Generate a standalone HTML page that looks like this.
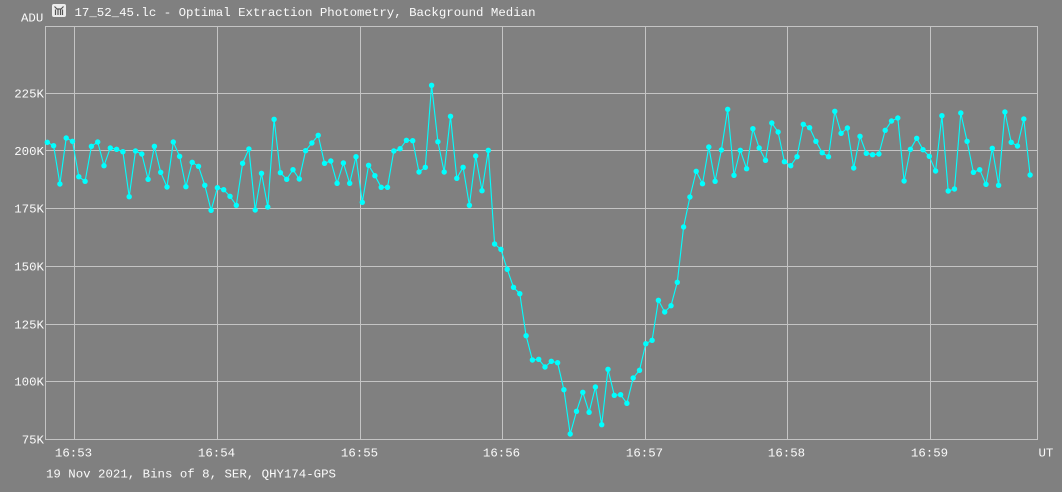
<!DOCTYPE html>
<html>
<head>
<meta charset="utf-8">
<style>
html,body{margin:0;padding:0;background:#808080;}
svg{display:block;}
text{font-family:"Liberation Mono","Courier New",monospace;font-size:12.4px;fill:#fafafa;}
</style>
</head>
<body>
<svg width="1062" height="492" viewBox="0 0 1062 492" xmlns="http://www.w3.org/2000/svg">
<rect x="0" y="0" width="1062" height="492" fill="#808080"/>
<g stroke="#c4c4c4" stroke-width="1" shape-rendering="crispEdges" fill="none">
<line x1="74.5" y1="27" x2="74.5" y2="439"/>
<line x1="217.5" y1="27" x2="217.5" y2="439"/>
<line x1="360.5" y1="27" x2="360.5" y2="439"/>
<line x1="502.5" y1="27" x2="502.5" y2="439"/>
<line x1="645.5" y1="27" x2="645.5" y2="439"/>
<line x1="787.5" y1="27" x2="787.5" y2="439"/>
<line x1="930.5" y1="27" x2="930.5" y2="439"/>
<line x1="45" y1="93.5" x2="1037" y2="93.5"/>
<line x1="45" y1="150.5" x2="1037" y2="150.5"/>
<line x1="45" y1="208.5" x2="1037" y2="208.5"/>
<line x1="45" y1="266.5" x2="1037" y2="266.5"/>
<line x1="45" y1="324.5" x2="1037" y2="324.5"/>
<line x1="45" y1="381.5" x2="1037" y2="381.5"/>
<rect x="45.5" y="26.5" width="992" height="413"/>
</g>

<!-- icon -->
<rect x="52" y="4" width="14" height="13" rx="2" fill="#ececec"/>
<g stroke="#555" stroke-width="1.2" fill="none">
<path d="M54.5 6.5 L57 9 L59 9 L61 9 L63.5 6.5"/>
<path d="M55.5 9.5 L55.5 15 M58 9.5 L58 15 M60.5 9.5 L60.5 15 M62.5 9.5 L62.5 15"/>
</g>

<text x="21" y="21.3">ADU</text>
<text x="74.5" y="16">17_52_45.lc - Optimal Extraction Photometry, Background Median</text>

<g text-anchor="end">
<text x="44" y="97.3">225K</text>
<text x="44" y="154.8">200K</text>
<text x="44" y="212.6">175K</text>
<text x="44" y="270.6">150K</text>
<text x="44" y="328.6">125K</text>
<text x="44" y="385.6">100K</text>
<text x="44" y="443.5">75K</text>
</g>
<g text-anchor="middle">
<text x="73.5" y="456.3">16:53</text>
<text x="216.5" y="456.3">16:54</text>
<text x="359.5" y="456.3">16:55</text>
<text x="501.5" y="456.3">16:56</text>
<text x="644.5" y="456.3">16:57</text>
<text x="786.5" y="456.3">16:58</text>
<text x="929.5" y="456.3">16:59</text>
</g>
<text x="1038.5" y="456.3">UT</text>
<text x="46" y="477.3">19 Nov 2021, Bins of 8, SER, QHY174-GPS</text>

<g id="data"></g>
</svg>
<script>
var ys=[142.3,145.7,184,138,141.3,176.7,181.3,146.3,142,165.7,148,149.3,151.7,196.7,151,154,179.3,146.3,172.3,187,142,156.3,186.7,162.3,166.3,185.3,210.3,187.7,189.7,196.3,205.3,163.3,149,210,173.3,207,119.3,172.7,179.3,169.7,179,150.7,143,135.3,163.3,161,183.3,163,183.3,156.7,202.3,165.3,175.7,187.3,187.3,151,148.7,140.3,140.7,172,167.3,85.3,141.7,172,116.3,178.3,167.3,205.3,156,190.7,150.3,244,249.3,269.3,287.3,293.7,335.7,360,359.3,367,361.3,362.7,389.7,434,411.3,392.3,412.3,387,424.7,369.3,395.3,394.7,403.3,378,370.3,343.7,340.3,300.3,312,305.7,282.3,227,197,171.3,183.7,147,181.3,150,109.3,175.3,150.3,168.7,128.7,148,160.3,123,132,161.7,165.7,156.7,124.3,127.7,141.3,152.7,156.7,111.3,133.3,128,168,136.3,153.3,154.7,154,130.3,121,118,181,149.3,138.3,149.7,156.3,171,115.7,191,189,113,141.3,172.3,169.7,184.3,148.3,185.3,112,142.3,146,119,175];
var ns="http://www.w3.org/2000/svg";
var g=document.getElementById("data");
var pts=[];
for(var i=0;i<ys.length;i++){pts.push((47.3+6.3*i).toFixed(1)+","+ys[i]);}
var pl=document.createElementNS(ns,"polyline");
pl.setAttribute("points",pts.join(" "));
pl.setAttribute("fill","none");
pl.setAttribute("stroke","#00ffff");
pl.setAttribute("stroke-width","1.1");
g.appendChild(pl);
for(var i=0;i<ys.length;i++){
var c=document.createElementNS(ns,"circle");
c.setAttribute("cx",(47.3+6.3*i).toFixed(1));
c.setAttribute("cy",ys[i]);
c.setAttribute("r","2.7");
c.setAttribute("fill","#00ffff");
g.appendChild(c);
}
</script>
</body>
</html>
